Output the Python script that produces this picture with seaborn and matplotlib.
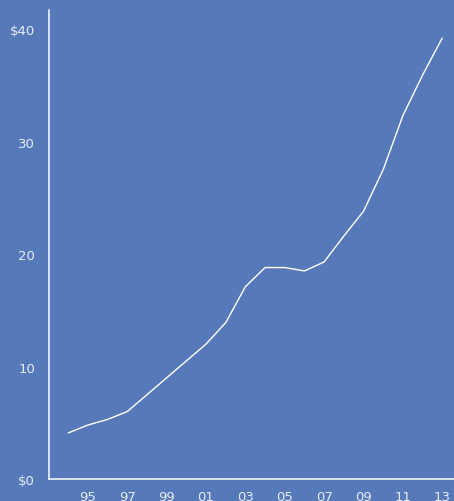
import pandas as pd
import matplotlib
matplotlib.use('Agg')
import matplotlib.pyplot as plt
import seaborn as sns

# values
years = list(range(1994, 2014))
values = [4.1, 4.8, 5.3, 6.0, 7.5, 9.0, 10.5, 12.0, 13.9, 17.1,
          18.8, 18.8, 18.5, 19.3, 21.6, 23.8, 27.5, 32.3, 35.9, 39.2]
yticks = [0, 10, 20, 30, 40]
ytick_labels = ['$0', '10', '20', '30', '$40']
xticks = list(range(1995, 2014, 2))
xtick_labels = ['%02d' % (y % 100) for y in xticks]

df = pd.DataFrame({'year': years, 'value': values})

bg = '#567ab9'
txt = '#e6ecf6'

sns.set_style('ticks')
plt.rcParams['font.family'] = ['DejaVu Sans']

fig = plt.figure(figsize=(4.54, 5.02), dpi=100, facecolor=bg)
ax = fig.add_axes([49/454, 1 - 480/502, 1 - 49/454, (480 - 11)/502])
ax.set_facecolor(bg)

sns.lineplot(data=df, x='year', y='value', ax=ax, color='white', linewidth=1.0)

ax.set_xlim(1993.02, 2013.6)
ax.set_ylim(0.2, 41.7)
ax.set_xticks(xticks)
ax.set_xticklabels(xtick_labels)
ax.set_yticks(yticks)
ax.set_yticklabels(ytick_labels)
ax.set_xlabel('')
ax.set_ylabel('')
ax.tick_params(axis='both', length=0, labelsize=9.5, colors=txt)
ax.tick_params(axis='y', pad=10)
ax.tick_params(axis='x', pad=8)

for s in ['top', 'right']:
    ax.spines[s].set_visible(False)
for s in ['left', 'bottom']:
    ax.spines[s].set_color('white')
    ax.spines[s].set_linewidth(1.1)

fig.savefig('out.png', dpi=100, facecolor=bg)
